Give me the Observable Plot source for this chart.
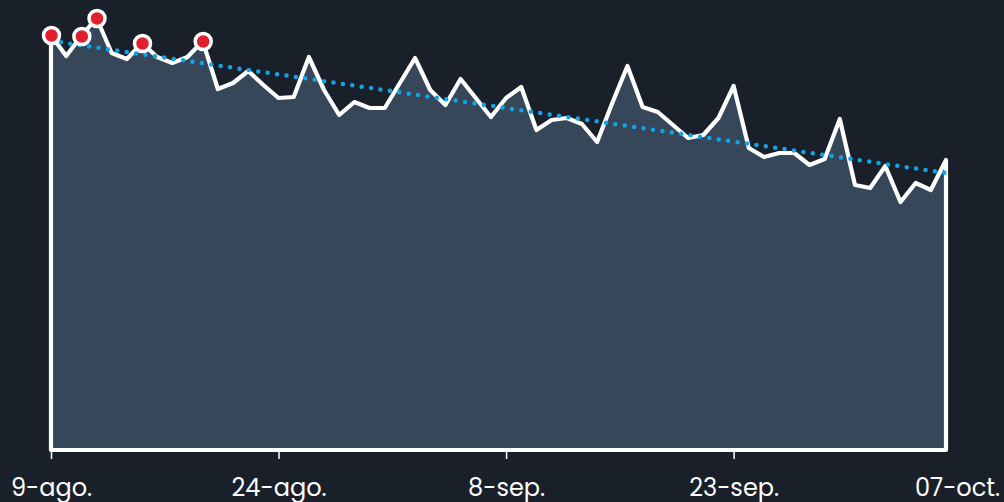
<!DOCTYPE html>
<html><head><meta charset="utf-8">
<script src="https://cdn.jsdelivr.net/npm/d3@7"></script>
<script src="https://cdn.jsdelivr.net/npm/@observablehq/plot@0.6"></script>
<style>
html,body{margin:0;padding:0;background:#1a202a;overflow:hidden;}
</style></head><body><div id="chart"></div>
<script>
const startDate = "2024-08-09";
const values = [415,394,414,432,397,391,407,393,387,393,409,361,367,379,365,352,353,393,360,335,
  348,342,342,367,392,360,345,371,352,333,352,363,320,330,332,326,308,347,384,343,
  338,325,312,315,332,364,302,293,297,297,285,291,331,265,262,284,248,267,260,290];
const highlightDates = ["2024-08-09","2024-08-11","2024-08-12","2024-08-15","2024-08-19"];
const tickDates = ["2024-08-09","2024-08-24","2024-09-08","2024-09-23"];
const tickLabels = ["9-ago.","24-ago.","8-sep.","23-sep."];
const lastLabel = "07-oct.";

const start = new Date(startDate + "T00:00:00Z");
const data = values.map((v, i) => ({date: d3.utcDay.offset(start, i), value: v}));
const hlSet = new Set(highlightDates);
const highlight = data.filter(d => hlSet.has(d.date.toISOString().slice(0,10)));
const ticks = tickDates.map(s => new Date(s + "T00:00:00Z"));
const labelMap = new Map(ticks.map((t, i) => [+t, tickLabels[i]]));
const lastDate = data[data.length - 1].date;

const chart = Plot.plot({
  width: 1004, height: 502,
  marginLeft: 51, marginRight: 58, marginTop: 0, marginBottom: 52,
  x: {type: "utc", domain: [data[0].date, lastDate]},
  y: {domain: [0, 450], axis: null},
  style: {background: "#1a202a", color: "white", fontFamily: "Poppins, Inter, sans-serif", fontSize: "24px", overflow: "visible"},
  marks: [
    Plot.areaY(data, {x: "date", y: "value", fill: "#36475a", stroke: "white", strokeWidth: 4.2, strokeLinejoin: "round"}),
    Plot.linearRegressionY(data, {x: "date", y: "value", stroke: "#0ea5e9", strokeWidth: 4.5, strokeDasharray: "0 9.5", strokeLinecap: "round", ci: 0}),
    Plot.dot(highlight, {x: "date", y: "value", r: 8, fill: "#e0202f", stroke: "white", strokeWidth: 3.5}),
    Plot.axisX({ticks: ticks, tickFormat: d => labelMap.get(+d), tickSize: 9, tickPadding: 19, stroke: "white", strokeWidth: 1.5, fill: "white"}),
    Plot.axisX({ticks: [lastDate], tickFormat: () => lastLabel, tickSize: 0, tickPadding: 28, dx: 11, fill: "white"})
  ]
});
document.getElementById("chart").appendChild(chart);
</script></body></html>
